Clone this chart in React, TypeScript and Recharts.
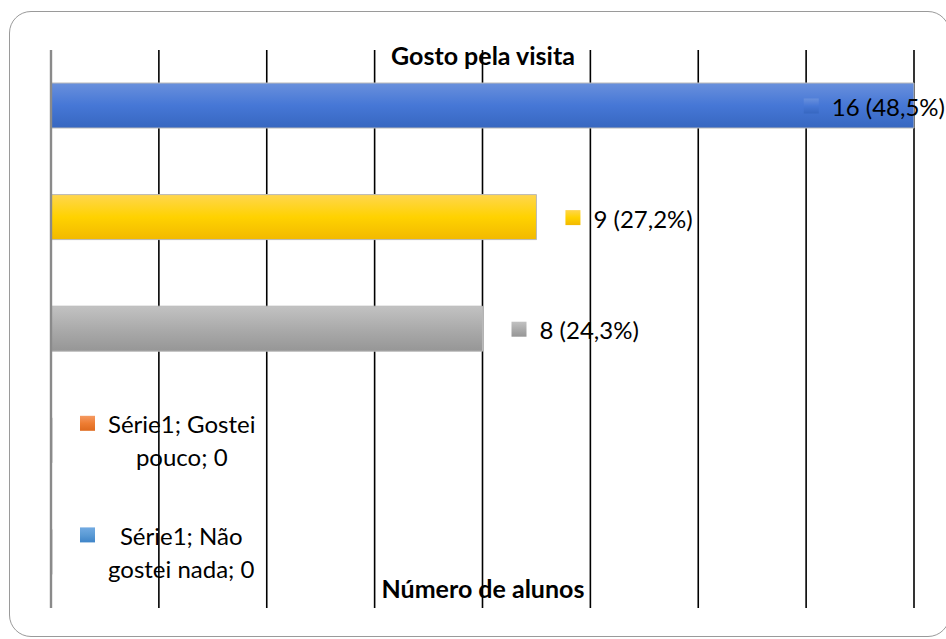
import React from 'react';
import { BarChart, Bar, XAxis, YAxis, CartesianGrid, Cell, LabelList, ReferenceLine } from 'recharts';

const categories = ['Gostei muito', 'Gostei', 'Indiferente', 'Gostei pouco', 'Não gostei nada'];
const values = [16, 9, 8, 0, 0];
const percentLabels = ['48,5%', '27,2%', '24,3%', '0%', '0%'];
const seriesName = 'Série1';
const xTicks = [0, 2, 4, 6, 8, 10, 12, 14, 16];
const barGradients = [
  ['#6990dc', '#4677d6', '#3767c0'],
  ['#ffd64e', '#ffd200', '#f2b900'],
  ['#c2c2c2', '#ababab', '#969696'],
  ['#f59a62', '#ee7d33', '#de6a1e'],
  ['#72aae2', '#5b9bd5', '#3f84c8'],
];
const chartTitle = 'Gosto pela visita';
const axisTitle = 'Número de alunos';

const data = categories.map((c, i) => ({ category: c, value: values[i] }));

const W = 946;
const H = 639;
const FONT = 'Lato, "Open Sans", sans-serif';
const LABEL_SIZE = 24;
const LABEL_FONT = `${LABEL_SIZE}px Lato`;

let ctx: CanvasRenderingContext2D | null = null;
const measure = (t: string) => {
  if (!ctx) ctx = document.createElement('canvas').getContext('2d');
  if (!ctx) return t.length * 11;
  ctx.font = LABEL_FONT;
  return ctx.measureText(t).width;
};

const wrap = (text: string, maxChars: number) => {
  const words = text.split(' ');
  const lines: string[] = [];
  let cur = '';
  words.forEach((w) => {
    const next = cur ? cur + ' ' + w : w;
    if (next.length > maxChars && cur) {
      lines.push(cur);
      cur = w;
    } else cur = next;
  });
  if (cur) lines.push(cur);
  return lines;
};

const renderLabel = (props: any) => {
  const { index, value } = props;
  const vb = props.viewBox ?? props;
  const x = Number(vb.x ?? props.x);
  const y = Number(vb.y ?? props.y);
  const w = Number(vb.width ?? props.width ?? 0);
  const h = Number(vb.height ?? props.height ?? 0);
  const num = Number(value);
  const end = num > 0 ? x + w : x;
  const cy = y + h / 2;
  const fill = `url(#grad-${index})`;
  if (num > 0) {
    const text = `${num} (${percentLabels[index]})`;
    const tw = measure(text);
    let mx = end + 29;
    if (mx + 28 + tw > W) mx = W - 28 - tw - 1;
    return (
      <g key={`lab-${index}`}>
        <rect x={mx} y={cy - 7} width={15} height={15} fill={fill} />
        <text x={mx + 28} y={cy + 1} dominantBaseline="central" fontFamily={FONT} fontSize={LABEL_SIZE} fill="#000">
          {text}
        </text>
      </g>
    );
  }
  const lines = wrap(`${seriesName}; ${categories[index]}; ${num}`, 14);
  const maxw = Math.max(...lines.map(measure));
  const mx = end + 29;
  const cx = mx + 28 + maxw / 2;
  const lh = 33;
  const y0 = cy - ((lines.length - 1) * lh) / 2;
  return (
    <g key={`lab-${index}`}>
      <rect x={mx} y={y0 - 8} width={15} height={15} fill={fill} />
      {lines.map((l, i) => (
        <text key={i} x={cx} y={y0 + i * lh} textAnchor="middle" dominantBaseline="central" fontFamily={FONT} fontSize={LABEL_SIZE} fill="#000">
          {l}
        </text>
      ))}
    </g>
  );
};

const titleStyle: React.CSSProperties = {
  position: 'absolute',
  left: 0,
  width: 966,
  textAlign: 'center',
  fontFamily: FONT,
  fontWeight: 700,
  fontSize: 25,
  lineHeight: '30px',
  color: '#000',
};

export default function App() {
  return (
    <div style={{ position: 'absolute', left: 0, top: 0, width: W, height: H, overflow: 'hidden', background: '#fff' }}>
      <div
        style={{
          position: 'absolute',
          left: 9,
          top: 11,
          width: 941,
          height: 626,
          border: '1px solid #9a9a9a',
          borderRadius: 22,
          boxSizing: 'border-box',
        }}
      />
      <div style={{ position: 'absolute', left: 0, top: 0 }}>
        <BarChart width={W} height={H} data={data} layout="vertical" margin={{ top: 50, right: 32, bottom: 31, left: 51 }} barSize={45}>
          <defs>
            {barGradients.map((g, i) => (
              <linearGradient key={i} id={`grad-${i}`} x1="0" y1="0" x2="0" y2="1">
                <stop offset="0%" stopColor={g[0]} />
                <stop offset="50%" stopColor={g[1]} />
                <stop offset="100%" stopColor={g[2]} />
              </linearGradient>
            ))}
          </defs>
          <CartesianGrid horizontal={false} vertical verticalValues={xTicks} stroke="#000" strokeWidth={1.6} />
          <XAxis type="number" domain={[0, 16]} ticks={xTicks} hide />
          <YAxis type="category" dataKey="category" hide />
          <Bar dataKey="value" isAnimationActive={false} stroke="#b9b9b9" strokeWidth={1} minPointSize={1}>
            {data.map((_, i) => (
              <Cell key={i} fill={`url(#grad-${i})`} />
            ))}
            <LabelList dataKey="value" content={renderLabel} />
          </Bar>
          <ReferenceLine x={0} stroke="#8a8a8a" strokeWidth={2.4} />
        </BarChart>
      </div>
      <div style={{ ...titleStyle, top: 40 }}>{chartTitle}</div>
      <div style={{ ...titleStyle, top: 573 }}>{axisTitle}</div>
    </div>
  );
}
